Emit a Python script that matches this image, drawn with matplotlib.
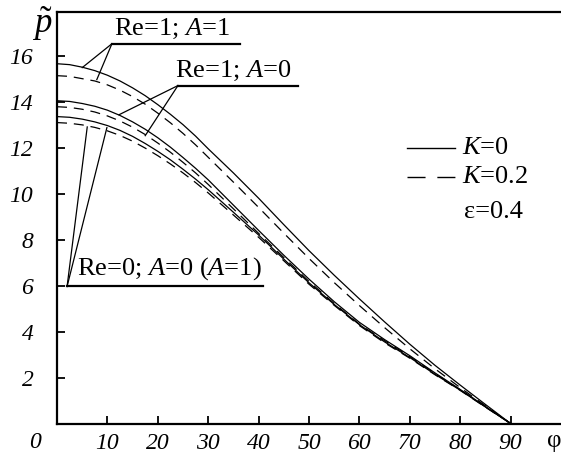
import matplotlib
matplotlib.use("Agg")
import matplotlib.pyplot as plt

plt.rcParams['font.family'] = ['Liberation Serif', 'DejaVu Serif']
plt.rcParams['mathtext.fontset'] = 'custom'
plt.rcParams['mathtext.rm'] = 'Liberation Serif'
plt.rcParams['mathtext.it'] = 'Liberation Serif:italic'

phi = [0, 2.5, 5, 7.5, 10, 12.5, 15, 17.5, 20, 22.5, 25, 27.5, 30,
       35, 40, 45, 50, 55, 60, 65, 70, 75, 80, 85, 90]

re1_a1_k0 = [15.65, 15.61, 15.5, 15.35, 15.15, 14.9, 14.6, 14.26, 13.87, 13.45, 13.0, 12.5, 11.95,
             10.9, 9.8, 8.65, 7.52, 6.45, 5.42, 4.42, 3.45, 2.53, 1.67, 0.83, 0.0]
re1_a1_k02 = [15.13, 15.1, 15.0, 14.9, 14.73, 14.5, 14.22, 13.89, 13.5, 13.08, 12.62, 12.12, 11.58,
              10.5, 9.4, 8.28, 7.18, 6.13, 5.13, 4.17, 3.25, 2.38, 1.56, 0.77, 0.0]
re1_a0_k0 = [14.04, 14.01, 13.92, 13.8, 13.63, 13.4, 13.12, 12.8, 12.43, 12.02, 11.57, 11.1, 10.6,
             9.5, 8.4, 7.32, 6.28, 5.3, 4.4, 3.65, 2.95, 2.2, 1.48, 0.74, 0.0]
re1_a0_k02 = [13.78, 13.75, 13.67, 13.55, 13.38, 13.16, 12.89, 12.57, 12.2, 11.8, 11.36, 10.9, 10.4,
              9.34, 8.27, 7.22, 6.18, 5.22, 4.32, 3.6, 2.91, 2.17, 1.47, 0.73, 0.0]
re0_k0 = [13.35, 13.32, 13.24, 13.12, 12.96, 12.75, 12.49, 12.18, 11.84, 11.47, 11.06, 10.63, 10.17,
          9.19, 8.2, 7.15, 6.12, 5.18, 4.3, 3.55, 2.87, 2.14, 1.45, 0.72, 0.0]
re0_k02 = [13.09, 13.06, 12.99, 12.88, 12.73, 12.53, 12.28, 11.98, 11.65, 11.29, 10.9, 10.48, 10.03,
           9.07, 8.1, 7.08, 6.06, 5.14, 4.26, 3.51, 2.84, 2.12, 1.44, 0.71, 0.0]

x_ticks = [10, 20, 30, 40, 50, 60, 70, 80, 90]
y_ticks = [2, 4, 6, 8, 10, 12, 14, 16]

fig = plt.figure(figsize=(5.61, 4.59), dpi=100)
ax = fig.add_axes([57/561, 35.5/459, 504/561, 411.5/459])
ax.set_xlim(0, 100)
ax.set_ylim(0, 17.9)

dash = (8, 5.5)
lw = 0.9
ax.plot(phi, re1_a1_k0, color='black', lw=lw)
ax.plot(phi, re1_a1_k02, color='black', lw=lw, dashes=dash)
ax.plot(phi, re1_a0_k0, color='black', lw=lw)
ax.plot(phi, re1_a0_k02, color='black', lw=lw, dashes=dash)
ax.plot(phi, re0_k0, color='black', lw=lw)
ax.plot(phi, re0_k02, color='black', lw=lw, dashes=dash)

ax.spines['right'].set_visible(False)
for s in ['left', 'bottom', 'top']:
    ax.spines[s].set_linewidth(1.6)

ax.set_xticks(x_ticks)
ax.set_yticks(y_ticks)
ax.tick_params(direction='in', length=6, width=1.3, labelsize=17)
ax.tick_params(axis='y', pad=17)
ax.tick_params(axis='x', pad=7)
for lab in ax.get_xticklabels() + ax.get_yticklabels():
    lab.set_fontstyle('italic')

# corner zero and axis labels
fig.text(35/561, 1 - 442/459, '0', fontsize=17, style='italic', ha='center', va='center')
fig.text(554/561, 1 - 441/459, 'φ', fontsize=18, ha='center', va='center')
fig.text(42/561, 1 - 24/459, r'$\tilde{p}$', fontsize=25, ha='center', va='center')

# annotations
fs = 19
ax.text(11.4, 16.62, r'Re=1; $A$=1', fontsize=fs, ha='left', va='bottom')
ax.plot([10.9, 36.3], [16.52, 16.52], color='black', lw=1.6)
ax.plot([10.9, 5.0], [16.52, 15.48], color='black', lw=0.9)
ax.plot([10.9, 7.9], [16.52, 14.96], color='black', lw=0.9)

ax.text(23.4, 14.8, r'Re=1; $A$=0', fontsize=fs, ha='left', va='bottom')
ax.plot([24.0, 47.8], [14.7, 14.7], color='black', lw=1.6)
ax.plot([24.0, 12.3], [14.7, 13.43], color='black', lw=0.9)
ax.plot([24.0, 17.5], [14.7, 12.52], color='black', lw=0.9)

ax.text(4.0, 6.15, r'Re=0; $A$=0 ($A$=1)', fontsize=fs, ha='left', va='bottom')
ax.plot([2.0, 40.9], [5.96, 5.96], color='black', lw=1.6)
ax.plot([2.0, 6.0], [5.96, 12.9], color='black', lw=0.9)
ax.plot([2.0, 9.9], [5.96, 12.87], color='black', lw=0.9)

# legend
ax.plot([69.4, 79.0], [12.0, 12.0], color='black', lw=1.0)
ax.plot([69.4, 79.0], [10.74, 10.74], color='black', lw=1.0, dashes=(13, 8.5))
ax.text(80.4, 12.0, r'$K$=0', fontsize=fs, ha='left', va='center')
ax.text(80.4, 10.74, r'$K$=0.2', fontsize=fs, ha='left', va='center')
ax.text(80.8, 9.2, 'ε=0.4', fontsize=fs, ha='left', va='center')

fig.savefig('out.png', dpi=100)
